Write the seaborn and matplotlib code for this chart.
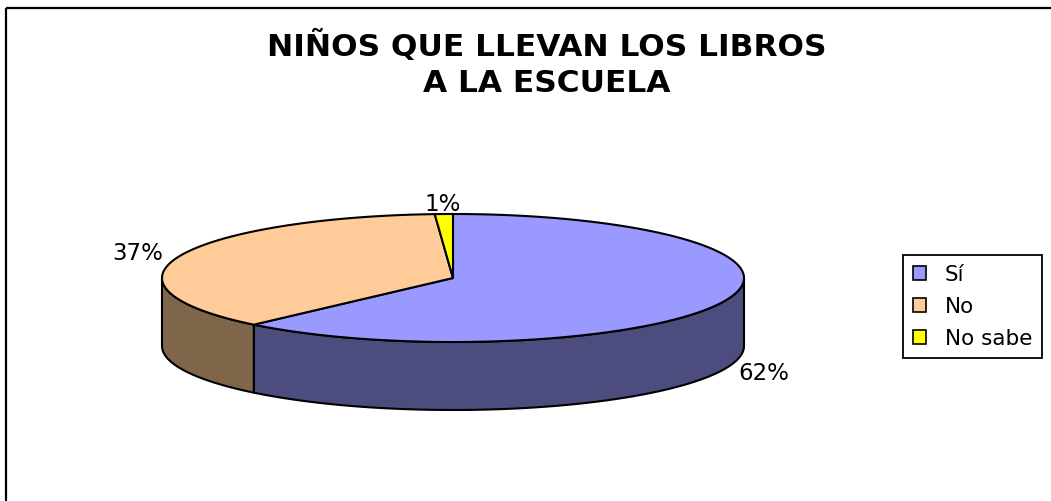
import numpy as np
import matplotlib
matplotlib.use('Agg')
import matplotlib.pyplot as plt
from matplotlib.patches import Polygon, Patch, Rectangle
import seaborn as sns

# ─── 数据 ───
categories = ['Sí', 'No', 'No sabe']
values = [62, 37, 1]
pct_labels = ['62%', '37%', '1%']
title = 'NIÑOS QUE LLEVAN LOS LIBROS\nA LA ESCUELA'

top_colors = sns.color_palette(['#9999FF', '#FFCC99', '#FFFF00'])
side_colors = sns.color_palette(['#4C4C7F', '#7F6549', '#7F7F00'])

# ─── 样式 ───
sns.set_style('white')
plt.rcParams['font.family'] = ['DejaVu Sans']
plt.rcParams['text.color'] = 'black'

W, H = 1051, 501
fig = plt.figure(figsize=(W / 100, H / 100), dpi=100)
ax = fig.add_axes([0, 0, 1, 1])
ax.set_xlim(0, W)
ax.set_ylim(H, 0)
ax.axis('off')

# 外框（只露出左边和上边）
ax.add_patch(Rectangle((6, 7.5), 1200, 700, fill=False, edgecolor='black',
                       linewidth=1.6, clip_on=False))

# 3D 饼图几何
cx, cy, rx, ry, depth = 453, 278, 291, 64, 68


def pt(theta, dy=0.0):
    t = np.radians(theta)
    return cx + rx * np.sin(t), cy - ry * np.cos(t) + dy


def arc(a0, a1, dy=0.0):
    n = max(int(abs(a1 - a0)) * 2, 2)
    return [pt(a, dy) for a in np.linspace(a0, a1, n)]


fracs = np.array(values, dtype=float) / sum(values)
bounds = np.concatenate([[0], np.cumsum(fracs) * 360])

# 侧面（前半部分）
for i in range(len(values)):
    a0, a1 = max(bounds[i], 90), min(bounds[i + 1], 270)
    if a1 > a0:
        verts = arc(a0, a1) + arc(a1, a0, depth)
        ax.add_patch(Polygon(verts, closed=True, facecolor=side_colors[i],
                             edgecolor='black', linewidth=1.5, joinstyle='round', zorder=1))

# 顶面
for i in range(len(values)):
    verts = [(cx, cy)] + arc(bounds[i], bounds[i + 1])
    ax.add_patch(Polygon(verts, closed=True, facecolor=top_colors[i],
                         edgecolor='black', linewidth=1.5, joinstyle='round', zorder=2))

# 百分比标签
for i, lab in enumerate(pct_labels):
    mid = (bounds[i] + bounds[i + 1]) / 2
    t = np.radians(mid)
    lx = cx + 1.15 * rx * np.sin(t)
    ly = cy - 1.15 * ry * np.cos(t) + (depth if np.cos(t) < 0 else 0)
    ax.text(lx, ly, lab, ha='center', va='center', fontsize=16.5, color='black')

# 标题
ax.text(547, 64, title, ha='center', va='center', fontsize=22.5, fontweight='bold',
        linespacing=1.3, color='black')

# 图例
handles = [Patch(facecolor=c, edgecolor='black', linewidth=1.2) for c in top_colors]
leg = ax.legend(handles, categories, loc='upper left',
                bbox_to_anchor=(903 / W, 1 - 255 / H), bbox_transform=fig.transFigure,
                borderaxespad=0, fontsize=15.5, frameon=True, fancybox=False,
                framealpha=1, handlelength=0.6, handleheight=0.6, handletextpad=0.9,
                labelspacing=0.56, borderpad=0.45, labelcolor='black')
leg.get_frame().set_edgecolor('black')
leg.get_frame().set_linewidth(1.3)

fig.savefig('out.png', dpi=100)
